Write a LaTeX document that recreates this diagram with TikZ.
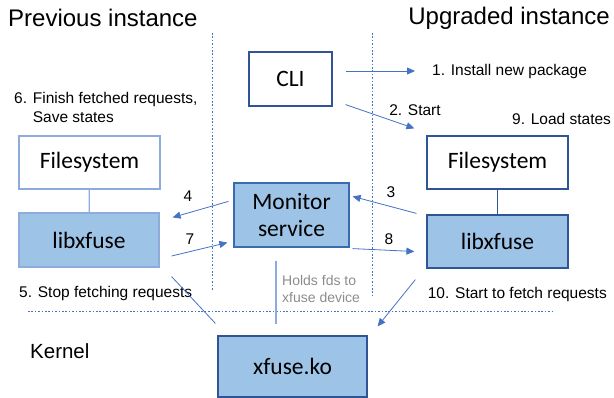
\documentclass[tikz,border=0pt]{standalone}
\usepackage{fontspec}
\setmainfont{Liberation Sans}
\newfontfamily\boxfont{Carlito}
\usetikzlibrary{arrows.meta}

\definecolor{boxblue}{HTML}{9DC3E6}
\definecolor{darkblue}{HTML}{2F5597}
\definecolor{paleblue}{HTML}{8FAADC}
\definecolor{midblue}{HTML}{3A6BB0}
\definecolor{arrowblue}{HTML}{4472C4}
\definecolor{notegray}{HTML}{8C8C8C}

\begin{document}
\begin{tikzpicture}[x=1pt,y=-1pt,
  box/.style={draw=darkblue, line width=1.2pt, minimum width=141pt, minimum height=53pt,
    inner sep=0pt, font=\boxfont\fontsize{23.5}{27}\selectfont},
  libbox/.style={box, fill=boxblue},
  arr/.style={draw=arrowblue, line width=0.8pt, -{Triangle[length=8pt,width=7pt]}},
  lbl/.style={inner sep=0pt, font=\fontsize{15.5}{19}\selectfont},
  title/.style={inner sep=0pt, font=\fontsize{24}{28}\selectfont},
  sep/.style={draw=arrowblue, line width=1pt, dash pattern=on 1.6pt off 1.8pt}]
\useasboundingbox (0,0) rectangle (614,398);

% separators
\draw[sep] (212,33) -- (212,290);
\draw[sep] (372,33) -- (372,295);
\draw[sep] (28,312) -- (552,312);

\node[title, anchor=west] (prev) at (8,18) {Previous instance};
\node[title, anchor=east] (upgr) at (610,18) {Upgraded instance};
\node[title, anchor=west, font=\fontsize{20.5}{24}\selectfont] (kern) at (30,351) {Kernel};

\node[box, fill=white, minimum width=83pt, minimum height=54pt] (cli) at (290.5,79) {CLI};
\node[box, draw=paleblue] (fsL) at (89.5,162.5) {Filesystem};
\node[libbox, draw=paleblue, minimum width=140pt, minimum height=54pt] (libL) at (89,240) {libxfuse};
\node[libbox, draw=midblue, minimum width=115pt, minimum height=64pt, align=center] (mon) at (291.5,215) {Monitor\\service};
\node[box] (fsR) at (497.5,162.5) {Filesystem};
\node[libbox] (libR) at (497.5,241.5) {libxfuse};
\node[libbox, minimum width=149pt, minimum height=61pt] (ko) at (292.5,366.5) {xfuse.ko};

\draw[paleblue, line width=1.2pt] (fsL) -- (libL);
\draw[darkblue, line width=1.2pt] (fsR) -- (libR);

\node[lbl, anchor=west] (inst) at (432,71) {1. Install new package};
\node[lbl] (start) at (415,110) {2. Start};
\node[lbl, anchor=west] (load) at (512,119) {9. Load states};
\node[lbl, anchor=west, align=left] (save) at (14,107.5) {6. Finish fetched requests,\\\phantom{6. }Save states};
\node[lbl, anchor=west] (stop) at (19,293) {5. Stop fetching requests};
\node[lbl, anchor=east] (fetch) at (607,294) {10. Start to fetch requests};
\node[lbl] (n3) at (391,192) {3};
\node[lbl] (n4) at (188,196) {4};
\node[lbl] (n7) at (190,239) {7};
\node[lbl] (n8) at (389,239) {8};
\node[inner sep=0pt, anchor=west, align=left, text=notegray, font=\fontsize{14}{17}\selectfont] (holds) at (282,288.5) {Holds fds to\\xfuse device};

\draw[arr] ([xshift=13pt,yshift=8pt]cli.east) -- ([xshift=-17pt]inst.west);
\draw[arr] ([xshift=13pt,yshift=2pt]cli.south east) -- ([xshift=-12pt,yshift=7pt]fsR.north west);
\draw[arr] ([xshift=-10pt,yshift=1pt]libR.north west) -- ([xshift=3pt,yshift=-14pt]mon.north east);
\draw[arr] ([xshift=-5pt,yshift=-19pt]mon.north west) -- ([xshift=13pt,yshift=-5pt]libL.north east);
\draw[arr] ([xshift=12pt,yshift=-16pt]libL.east) -- ([xshift=-6pt,yshift=5pt]mon.south west);
\draw[arr] ([xshift=3pt,yshift=-1pt]mon.south east) -- ([xshift=-12pt,yshift=-10pt]libR.west);
\draw[arrowblue, line width=0.8pt] ([xshift=12pt,yshift=-9pt]libL.south east) -- ([xshift=-2pt,yshift=12pt]ko.north west);
\draw[arr] ([xshift=-11pt,yshift=-11pt]libR.south west) -- ([xshift=10pt,yshift=9pt]ko.north east);
\draw[paleblue, line width=1.2pt] ([xshift=-15.5pt,yshift=-13pt]mon.south) -- ([xshift=-16.5pt,yshift=11pt]ko.north);
\end{tikzpicture}
\end{document}
